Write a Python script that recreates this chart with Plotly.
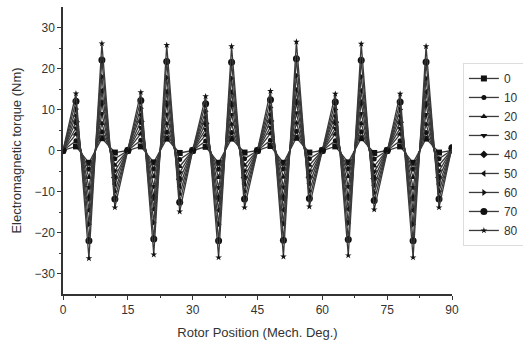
import plotly.graph_objects as go

rotor_position = [0, 3, 6, 9, 12, 15, 18, 21, 24, 27, 30, 33, 36, 39, 42, 45,
                  48, 51, 54, 57, 60, 63, 66, 69, 72, 75, 78, 81, 84, 87, 90]

s0 = [0, 1.0, -3.0, 3.0, -0.5, 0, 1.0, -2.9, 2.9, -0.6, 0, 0.9, -3.0, 2.9, -0.5, 0,
      1.1, -3.0, 3.1, -0.5, 0, 1.0, -2.9, 3.0, -0.6, 0, 1.0, -3.0, 2.9, -0.5, 0]
s10 = [0, 2.4, -4.6, 4.6, -2.0, 0, 2.5, -4.5, 4.5, -2.2, 0, 2.3, -4.6, 4.4, -2.0, 0,
       2.5, -4.5, 4.7, -2.0, 0, 2.4, -4.5, 4.6, -2.1, 0, 2.4, -4.6, 4.4, -2.0, 0.1]
s20 = [0, 4.0, -6.6, 6.6, -3.6, 0, 4.1, -6.4, 6.5, -3.9, 0, 3.8, -6.6, 6.4, -3.6, 0,
       4.2, -6.5, 6.7, -3.6, 0, 4.0, -6.4, 6.6, -3.8, 0, 4.0, -6.6, 6.4, -3.6, 0.2]
s30 = [0, 5.5, -9.0, 9.0, -5.0, 0, 5.6, -8.8, 8.9, -5.4, 0, 5.2, -9.0, 8.8, -5.0, 0,
       5.7, -8.9, 9.2, -5.0, 0, 5.4, -8.8, 9.0, -5.2, 0, 5.4, -9.0, 8.8, -5.0, 0.3]
s40 = [0, 7.0, -11.6, 11.6, -6.6, 0, 7.1, -11.4, 11.4, -7.0, 0, 6.6, -11.6, 11.3, -6.6, 0,
       7.2, -11.5, 11.8, -6.5, 0, 6.9, -11.4, 11.6, -6.8, 0, 6.9, -11.6, 11.3, -6.6, 0.4]
s50 = [0, 8.5, -14.6, 14.6, -8.2, 0, 8.7, -14.3, 14.4, -8.7, 0, 8.1, -14.6, 14.3, -8.2, 0,
       8.8, -14.5, 14.8, -8.1, 0, 8.4, -14.3, 14.6, -8.5, 0, 8.4, -14.6, 14.3, -8.2, 0.5]
s60 = [0, 10.1, -18.0, 18.0, -10.0, 0, 10.3, -17.6, 17.8, -10.6, 0, 9.6, -18.0, 17.6, -10.0, 0,
       10.5, -17.9, 18.3, -9.9, 0, 10.0, -17.7, 18.0, -10.3, 0, 10.0, -18.0, 17.6, -10.0, 0.6]
s70 = [0, 12.0, -22.0, 22.1, -11.8, 0, 12.2, -21.6, 21.7, -12.6, 0, 11.4, -22.0, 21.5, -11.8, 0,
       12.4, -21.9, 22.4, -11.7, 0, 11.8, -21.7, 22.0, -12.2, 0, 11.8, -22.0, 21.6, -11.8, 0.7]
s80 = [0, 13.9, -26.3, 26.1, -13.9, 0, 14.2, -25.4, 25.7, -14.9, 0, 13.2, -26.1, 25.4, -13.9, 0,
       14.5, -25.9, 26.5, -13.7, 0, 13.8, -25.6, 26.0, -14.4, 0, 13.8, -26.1, 25.4, -13.9, 0.8]

series_names = ["0", "10", "20", "30", "40", "50", "60", "70", "80"]
series_values = [s0, s10, s20, s30, s40, s50, s60, s70, s80]
symbols = ["square", "circle", "triangle-up", "triangle-down", "diamond",
           "triangle-left", "triangle-right", "circle", "star"]
sizes = [6, 5, 6, 6, 6, 6, 6, 7, 5]

x_ticks = [0, 15, 30, 45, 60, 75, 90]
y_ticks = [-30, -20, -10, 0, 10, 20, 30]

fig = go.Figure()
for name, vals, sym, sz in zip(series_names, series_values, symbols, sizes):
    fig.add_trace(go.Scatter(
        x=rotor_position, y=vals, name=name, mode="lines+markers",
        line=dict(color="#3a3a3a", width=1.3),
        marker=dict(symbol=sym, size=sz, color="#111111"),
    ))

axis_font = dict(family="Liberation Sans, Arial, sans-serif", size=12, color="#333333")
fig.update_layout(
    width=523, height=349,
    margin=dict(l=63, r=71, t=7, b=55, autoexpand=False),
    paper_bgcolor="white", plot_bgcolor="white",
    font=dict(family="Liberation Sans, Arial, sans-serif", size=12, color="#333333"),
    legend=dict(
        x=1.028, y=0.805, xanchor="left", yanchor="top",
        bgcolor="white", bordercolor="#dddddd", borderwidth=1,
        font=dict(size=12, color="#333333"),
        tracegroupgap=0, itemwidth=30,
    ),
    xaxis=dict(
        range=[0, 90], tickvals=x_ticks, showgrid=False, zeroline=False,
        showline=True, linecolor="#333333", linewidth=1.5,
        ticks="outside", ticklen=4, tickcolor="#333333",
        minor=dict(tickvals=[7.5, 22.5, 37.5, 52.5, 67.5, 82.5], ticks="outside",
                   ticklen=2, tickcolor="#333333"),
        tickfont=axis_font,
        title=dict(text="Rotor Position (Mech. Deg.)", font=dict(size=13, color="#333333"),
                   standoff=12),
    ),
    yaxis=dict(
        range=[-35, 35], tickvals=y_ticks, showgrid=False, zeroline=False,
        showline=True, linecolor="#333333", linewidth=1.5,
        ticks="outside", ticklen=4, tickcolor="#333333",
        minor=dict(tickvals=[-25, -15, -5, 5, 15, 25], ticks="outside",
                   ticklen=2, tickcolor="#333333"),
        tickfont=axis_font,
        title=dict(text="Electromagnetic torque (Nm)", font=dict(size=13, color="#333333"),
                   standoff=10),
    ),
)

fig.write_html("out.html", config={"displayModeBar": False},
               post_script="document.body.style.margin='0';")
